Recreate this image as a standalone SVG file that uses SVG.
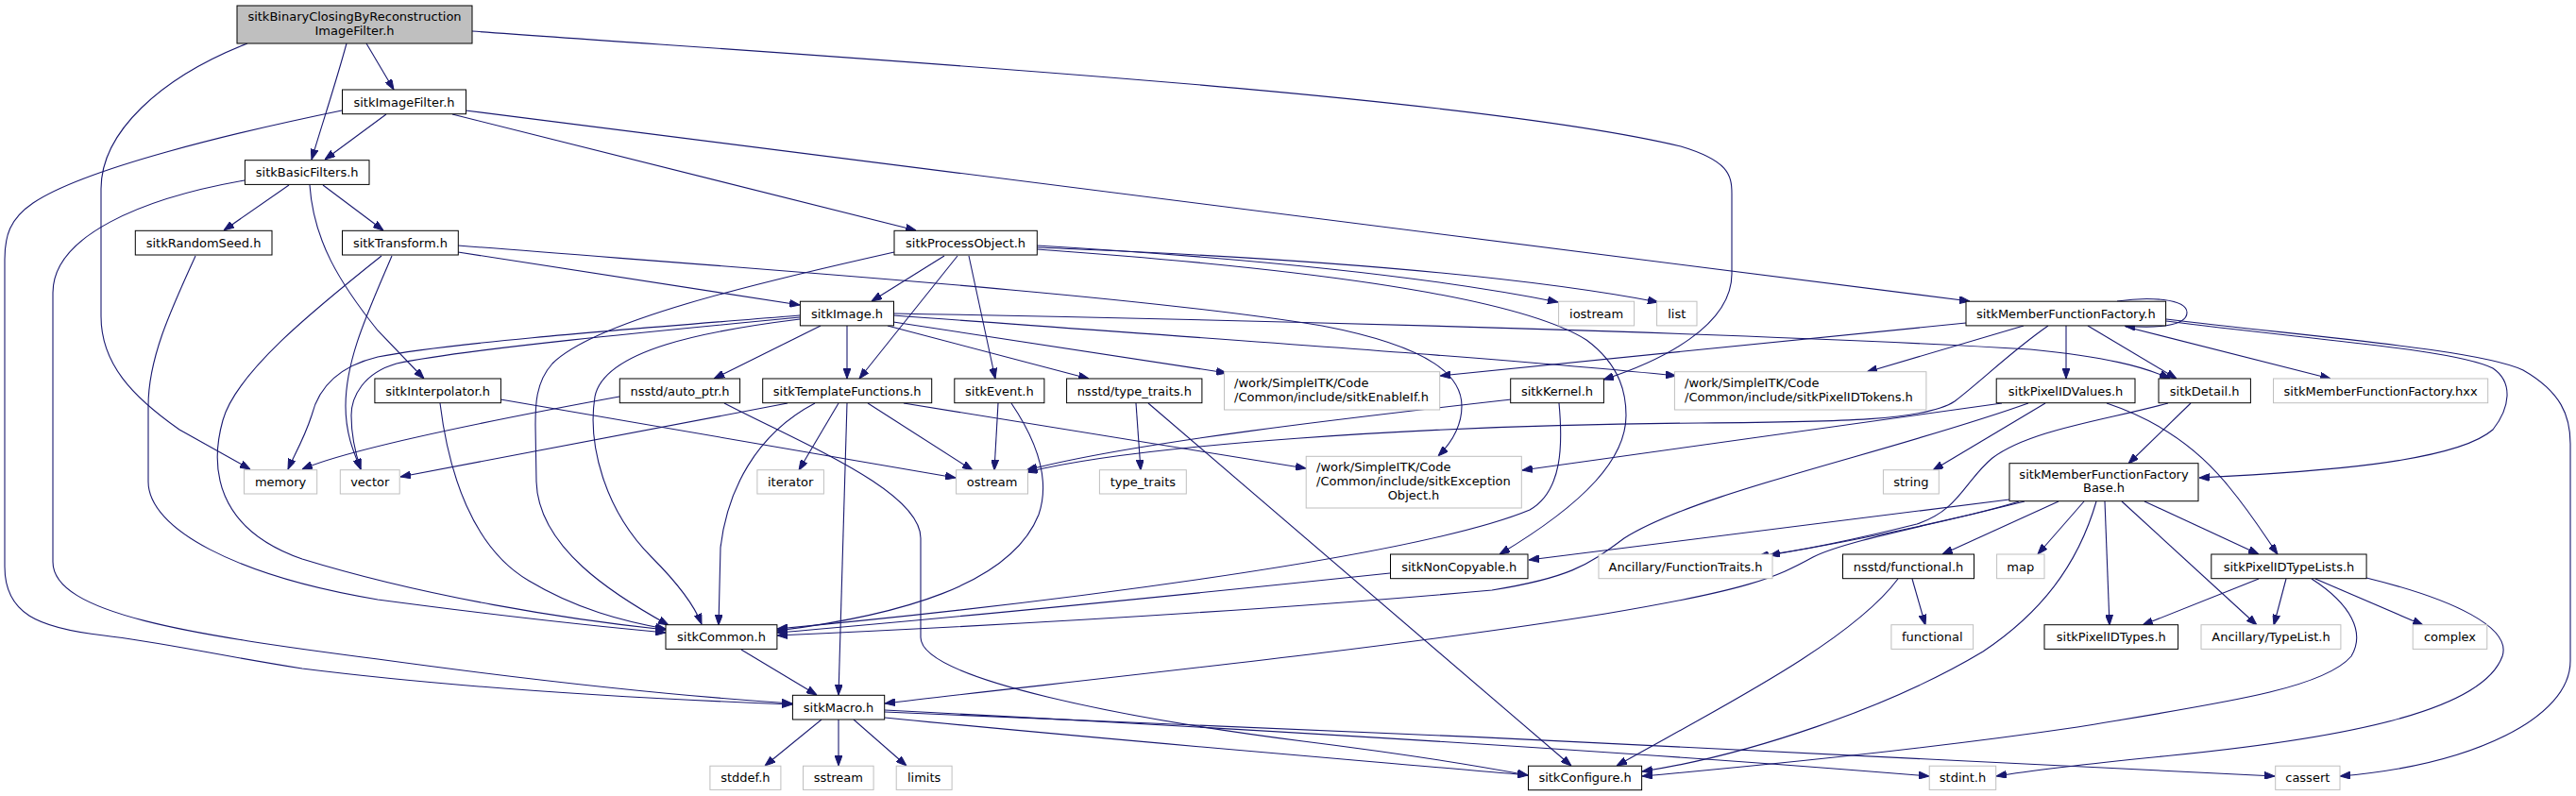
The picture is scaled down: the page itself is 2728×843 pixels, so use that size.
<svg xmlns="http://www.w3.org/2000/svg" width="2728" height="843" viewBox="0 0 2728 843">
<style>
.n rect{fill:#fff;stroke:#000;stroke-width:1}
.x rect{fill:#fff;stroke:#bfbfbf;stroke-width:1}
.m rect{fill:#bfbfbf;stroke:#000;stroke-width:1}
text{font-family:"DejaVu Sans","Liberation Sans",sans-serif;font-size:13px;fill:#000}
.c{text-anchor:middle}
#edges path{fill:none;stroke:#191970;stroke-width:1.1;marker-end:url(#a)}
</style>
<defs>
<marker id="a" viewBox="0 0 11 8" refX="11" refY="4" markerWidth="11" markerHeight="8" markerUnits="userSpaceOnUse" orient="auto"><path d="M0,0 L11,4 L0,8 z" fill="#191970" stroke="#191970" stroke-width="1"/></marker>
</defs>
<rect width="2728" height="843" fill="#fff"/>
<g id="edges">
<path d="M262,46 C170,82 107,140 107,200 L107,335 C107,385 140,420 190,455 L265,497"/>
<path d="M367,46 C355,90 340,135 330,169"/>
<path d="M388,46 L417,95"/>
<path d="M500,33 C900,62 1550,100 1780,155 C1830,170 1834,185 1834,205 L1834,290 C1834,345 1760,382 1698,402"/>
<path d="M409,121 L344,169"/>
<path d="M362,117 C250,140 90,178 35,215 C10,232 5,250 5,275 L5,600 C5,650 40,665 110,673 C170,680 220,692 320,708 C480,728 680,740 839,746"/>
<path d="M479,121 L970,244"/>
<path d="M493,117 L2086,319"/>
<path d="M306,196 L237,244"/>
<path d="M342,196 L406,244"/>
<path d="M328,196 C332,255 360,300 400,350 L449,401"/>
<path d="M259,191 C150,210 56,250 56,310 L56,595 C56,650 200,672 400,698 C560,720 700,736 839,745"/>
<path d="M404,271 C330,330 250,395 236,445 C222,495 228,560 320,592 C450,632 600,656 705,667"/>
<path d="M415,271 C390,330 366,380 366,430 C366,460 375,480 382,497"/>
<path d="M485,267 L847,323"/>
<path d="M485,260 C800,285 1200,312 1400,345 C1520,368 1548,400 1548,430 C1548,452 1536,470 1523,483"/>
<path d="M947,267 C800,300 630,340 585,385 C567,405 567,430 567,450 L568,510 C570,580 650,630 708,662"/>
<path d="M1000,271 L923,319"/>
<path d="M1014,271 L910,401"/>
<path d="M1026,271 L1054,401"/>
<path d="M1098,260 C1300,272 1500,290 1650,320"/>
<path d="M1098,262 C1350,272 1600,290 1756,320"/>
<path d="M1098,264 C1350,282 1600,310 1680,360 C1718,388 1722,420 1722,440 C1722,485 1680,532 1588,587"/>
<path d="M847,334 C700,346 480,362 400,378 C350,390 335,420 330,440 C322,465 310,485 305,497"/>
<path d="M847,336 C700,350 490,370 420,385 C385,395 372,420 372,440 C372,465 378,485 382,497"/>
<path d="M847,338 C750,350 640,370 630,420 C622,470 640,540 690,590 C715,615 735,640 743,661"/>
<path d="M869,345 L756,401"/>
<path d="M897,345 L897,401"/>
<path d="M940,345 L1153,401"/>
<path d="M946,341 L1299,395"/>
<path d="M946,334 C1300,360 1600,380 1775,398"/>
<path d="M946,332 C1400,340 1900,355 2150,370 C2230,378 2270,388 2298,401"/>
<path d="M834,427 L424,505"/>
<path d="M863,427 C800,460 770,520 763,580 L761,662"/>
<path d="M888,427 L846,498"/>
<path d="M897,427 L888,736"/>
<path d="M919,427 L1030,498"/>
<path d="M957,427 L1383,496"/>
<path d="M656,420 C520,445 370,475 320,497"/>
<path d="M767,427 C850,470 975,520 975,570 L975,675 C975,720 1200,762 1380,785 C1500,800 1570,812 1618,821"/>
<path d="M1057,427 L1053,498"/>
<path d="M1071,427 C1100,470 1112,510 1100,545 C1070,620 950,652 823,668"/>
<path d="M1203,427 L1208,498"/>
<path d="M1216,427 L1664,811"/>
<path d="M1651,427 C1655,470 1655,520 1620,540 C1500,590 1100,640 823,666"/>
<path d="M1600,423 C1450,440 1200,468 1087,498"/>
<path d="M2169,345 C2130,372 2100,402 2070,425 C2040,445 1950,447 1800,448 C1500,450 1200,472 1088,500"/>
<path d="M2120,427 L1612,498"/>
<path d="M2148,427 C2000,480 1800,520 1720,570 C1680,600 1660,612 1580,625 C1300,650 1000,665 823,673"/>
<path d="M2166,427 L2047,498"/>
<path d="M2231,427 C2300,450 2340,490 2360,515 C2385,545 2400,570 2412,587"/>
<path d="M2082,342 L1525,398"/>
<path d="M2143,345 L1977,394"/>
<path d="M2188,345 L2188,401"/>
<path d="M2211,345 L2305,401"/>
<path d="M2251,346 L2468,401"/>
<path d="M2242,319 C2275,314 2316,316 2316,331 C2316,346 2280,348 2250,345"/>
<path d="M2294,340 C2450,360 2600,370 2640,390 C2662,405 2658,432 2640,455 C2600,490 2450,500 2329,506"/>
<path d="M2294,338 C2450,357 2625,370 2672,392 C2712,415 2722,440 2722,470 L2722,700 C2722,760 2620,810 2478,822"/>
<path d="M2320,427 L2254,491"/>
<path d="M2296,427 C2230,445 2150,455 2110,485 C2080,510 2075,540 2030,555 C1950,575 1900,584 1862,589"/>
<path d="M2128,529 L1619,593"/>
<path d="M2144,531 C2050,555 1950,575 1874,588"/>
<path d="M2138,531 C2080,550 1960,570 1920,590 C1880,612 1850,625 1700,650 C1450,690 1100,725 937,745"/>
<path d="M2180,531 L2057,587"/>
<path d="M2207,531 L2158,587"/>
<path d="M2220,531 C2200,600 2160,650 2100,690 C2000,750 1850,800 1739,817"/>
<path d="M2229,531 L2234,662"/>
<path d="M2247,531 L2390,662"/>
<path d="M2271,531 L2392,587"/>
<path d="M2392,613 L2269,662"/>
<path d="M2421,613 L2408,662"/>
<path d="M2452,613 L2566,662"/>
<path d="M2448,613 C2490,640 2505,670 2490,695 C2460,730 2350,745 2200,770 C2050,792 1850,812 1739,822"/>
<path d="M2506,612 C2600,635 2660,665 2650,695 C2630,750 2500,780 2300,800 C2200,810 2150,816 2114,822"/>
<path d="M2025,613 L2039,662"/>
<path d="M2010,613 C1960,680 1820,750 1712,811"/>
<path d="M785,688 L865,736"/>
<path d="M870,762 L810,811"/>
<path d="M888,762 L888,811"/>
<path d="M904,762 L960,811"/>
<path d="M937,760 C1200,786 1450,806 1618,821"/>
<path d="M937,752 C1400,776 1800,802 2043,822"/>
<path d="M937,754 C1400,772 2000,800 2409,822"/>
<path d="M466,427 C475,500 500,580 560,615 C610,645 660,658 705,666"/>
<path d="M530,423 L1012,506"/>
<path d="M207,271 C180,330 157,380 157,430 L157,510 C157,560 250,610 400,635 C550,655 650,665 705,670"/>
<path d="M1472,607 C1300,625 1000,655 823,670"/>
</g>
<g id="main" class="m"><rect x="251" y="6" width="249" height="40"/><text class="c" x="375.5" y="22.2">sitkBinaryClosingByReconstruction</text><text class="c" x="375.5" y="36.8">ImageFilter.h</text></g>
<g id="imagefilter" class="n"><rect x="362.5" y="95" width="131" height="25.7"/><text class="c" x="428" y="112.5">sitkImageFilter.h</text></g>
<g id="basicfilters" class="n"><rect x="259.4" y="169.7" width="131.6" height="25.7"/><text class="c" x="325.2" y="187.1">sitkBasicFilters.h</text></g>
<g id="randomseed" class="n"><rect x="143.3" y="244.3" width="144.7" height="25.7"/><text class="c" x="215.6" y="261.8">sitkRandomSeed.h</text></g>
<g id="transform" class="n"><rect x="362.5" y="244.3" width="122.8" height="25.7"/><text class="c" x="423.9" y="261.8">sitkTransform.h</text></g>
<g id="processobject" class="n"><rect x="947" y="244.3" width="151.3" height="25.7"/><text class="c" x="1022.6" y="261.8">sitkProcessObject.h</text></g>
<g id="image" class="n"><rect x="847.4" y="319.2" width="99.1" height="25.7"/><text class="c" x="897" y="336.6">sitkImage.h</text></g>
<g id="iostream" class="x"><rect x="1650.6" y="319.2" width="80" height="25.7"/><text class="c" x="1690.6" y="336.6">iostream</text></g>
<g id="list" class="x"><rect x="1754.6" y="319.2" width="42.4" height="25.7"/><text class="c" x="1775.8" y="336.6">list</text></g>
<g id="mff" class="n"><rect x="2082" y="319.2" width="211.6" height="25.7"/><text class="c" x="2187.8" y="336.6">sitkMemberFunctionFactory.h</text></g>
<g id="interpolator" class="n"><rect x="396.9" y="401" width="133.5" height="25.7"/><text class="c" x="463.6" y="418.5">sitkInterpolator.h</text></g>
<g id="autoptr" class="n"><rect x="656.3" y="401" width="127.3" height="25.7"/><text class="c" x="720" y="418.5">nsstd/auto_ptr.h</text></g>
<g id="templatefunctions" class="n"><rect x="807.7" y="401" width="179" height="25.7"/><text class="c" x="897.2" y="418.5">sitkTemplateFunctions.h</text></g>
<g id="event" class="n"><rect x="1010.8" y="401" width="95.1" height="25.7"/><text class="c" x="1058.4" y="418.5">sitkEvent.h</text></g>
<g id="typetraitsh" class="n"><rect x="1129.6" y="401" width="143.3" height="25.7"/><text class="c" x="1201.3" y="418.5">nsstd/type_traits.h</text></g>
<g id="enableif" class="x"><rect x="1296.5" y="393.7" width="228.2" height="40.3"/><text x="1307" y="410">/work/SimpleITK/Code</text><text x="1307" y="425">/Common/include/sitkEnableIf.h</text></g>
<g id="kernel" class="n"><rect x="1599.7" y="401" width="98.7" height="25.7"/><text class="c" x="1649" y="418.5">sitkKernel.h</text></g>
<g id="pixelidtokens" class="x"><rect x="1773.4" y="393.7" width="266.5" height="40.3"/><text x="1784" y="410">/work/SimpleITK/Code</text><text x="1784" y="425">/Common/include/sitkPixelIDTokens.h</text></g>
<g id="pixelidvalues" class="n"><rect x="2114.2" y="401" width="146.8" height="25.7"/><text class="c" x="2187.6" y="418.5">sitkPixelIDValues.h</text></g>
<g id="detail" class="n"><rect x="2286" y="401" width="97.4" height="25.7"/><text class="c" x="2334.7" y="418.5">sitkDetail.h</text></g>
<g id="hxx" class="x"><rect x="2407.5" y="401" width="227.2" height="25.7"/><text class="c" x="2521.1" y="418.5">sitkMemberFunctionFactory.hxx</text></g>
<g id="memory" class="x"><rect x="258.5" y="497.7" width="77.2" height="25.3"/><text class="c" x="297.1" y="515">memory</text></g>
<g id="vector" class="x"><rect x="360.3" y="497.7" width="62.9" height="25.3"/><text class="c" x="391.8" y="515">vector</text></g>
<g id="iterator" class="x"><rect x="801.9" y="497.7" width="70.5" height="25.3"/><text class="c" x="837.2" y="515">iterator</text></g>
<g id="ostream" class="x"><rect x="1012.6" y="497.7" width="75.9" height="25.3"/><text class="c" x="1050.6" y="515">ostream</text></g>
<g id="typetraits" class="x"><rect x="1164.4" y="497.7" width="91.9" height="25.3"/><text class="c" x="1210.4" y="515">type_traits</text></g>
<g id="exceptionobject" class="x"><rect x="1383.2" y="483.3" width="228.1" height="54.7"/><text x="1394" y="499.2">/work/SimpleITK/Code</text><text x="1394" y="514.2">/Common/include/sitkException</text><text class="c" x="1497" y="529.2">Object.h</text></g>
<g id="string" class="x"><rect x="1994.4" y="497.7" width="58.9" height="25.3"/><text class="c" x="2023.9" y="515">string</text></g>
<g id="mffbase" class="n"><rect x="2128" y="490.7" width="200" height="40"/><text class="c" x="2228" y="506.8">sitkMemberFunctionFactory</text><text class="c" x="2228" y="521.2">Base.h</text></g>
<g id="noncopyable" class="n"><rect x="1472.5" y="587" width="145.5" height="25.7"/><text class="c" x="1545.3" y="604.5">sitkNonCopyable.h</text></g>
<g id="functiontraits" class="x"><rect x="1693" y="587" width="184" height="25.7"/><text class="c" x="1785" y="604.5">Ancillary/FunctionTraits.h</text></g>
<g id="functionalh" class="n"><rect x="1951.5" y="587" width="139" height="25.7"/><text class="c" x="2021" y="604.5">nsstd/functional.h</text></g>
<g id="map" class="x"><rect x="2114.6" y="587" width="50.4" height="25.7"/><text class="c" x="2139.8" y="604.5">map</text></g>
<g id="pixelidtypelists" class="n"><rect x="2341.8" y="587" width="164.3" height="25.7"/><text class="c" x="2424" y="604.5">sitkPixelIDTypeLists.h</text></g>
<g id="common" class="n"><rect x="705" y="661.7" width="117.9" height="25.7"/><text class="c" x="764" y="679.1">sitkCommon.h</text></g>
<g id="functional" class="x"><rect x="2002.9" y="661.7" width="86.7" height="25.7"/><text class="c" x="2046.3" y="679.1">functional</text></g>
<g id="pixelidtypes" class="n"><rect x="2165" y="661.7" width="141.6" height="25.7"/><text class="c" x="2235.8" y="679.1">sitkPixelIDTypes.h</text></g>
<g id="typelist" class="x"><rect x="2331" y="661.7" width="147.9" height="25.7"/><text class="c" x="2405" y="679.1">Ancillary/TypeList.h</text></g>
<g id="complex" class="x"><rect x="2555.2" y="661.7" width="78.6" height="25.7"/><text class="c" x="2594.5" y="679.1">complex</text></g>
<g id="macro" class="n"><rect x="839.4" y="736.3" width="97.3" height="25.7"/><text class="c" x="888" y="753.8">sitkMacro.h</text></g>
<g id="stddef" class="x"><rect x="751.9" y="811.2" width="75" height="25.2"/><text class="c" x="789.4" y="828.4">stddef.h</text></g>
<g id="sstream" class="x"><rect x="850.5" y="811.2" width="74.6" height="25.2"/><text class="c" x="887.8" y="828.4">sstream</text></g>
<g id="limits" class="x"><rect x="949.2" y="811.2" width="58.9" height="25.2"/><text class="c" x="978.6" y="828.4">limits</text></g>
<g id="configure" class="n"><rect x="1618.5" y="811.2" width="120.1" height="25.5"/><text class="c" x="1678.6" y="828.4">sitkConfigure.h</text></g>
<g id="stdint" class="x"><rect x="2043.2" y="811.2" width="70.5" height="25.2"/><text class="c" x="2078.5" y="828.4">stdint.h</text></g>
<g id="cassert" class="x"><rect x="2409.7" y="811.2" width="68.3" height="25.2"/><text class="c" x="2443.8" y="828.4">cassert</text></g>
</svg>
